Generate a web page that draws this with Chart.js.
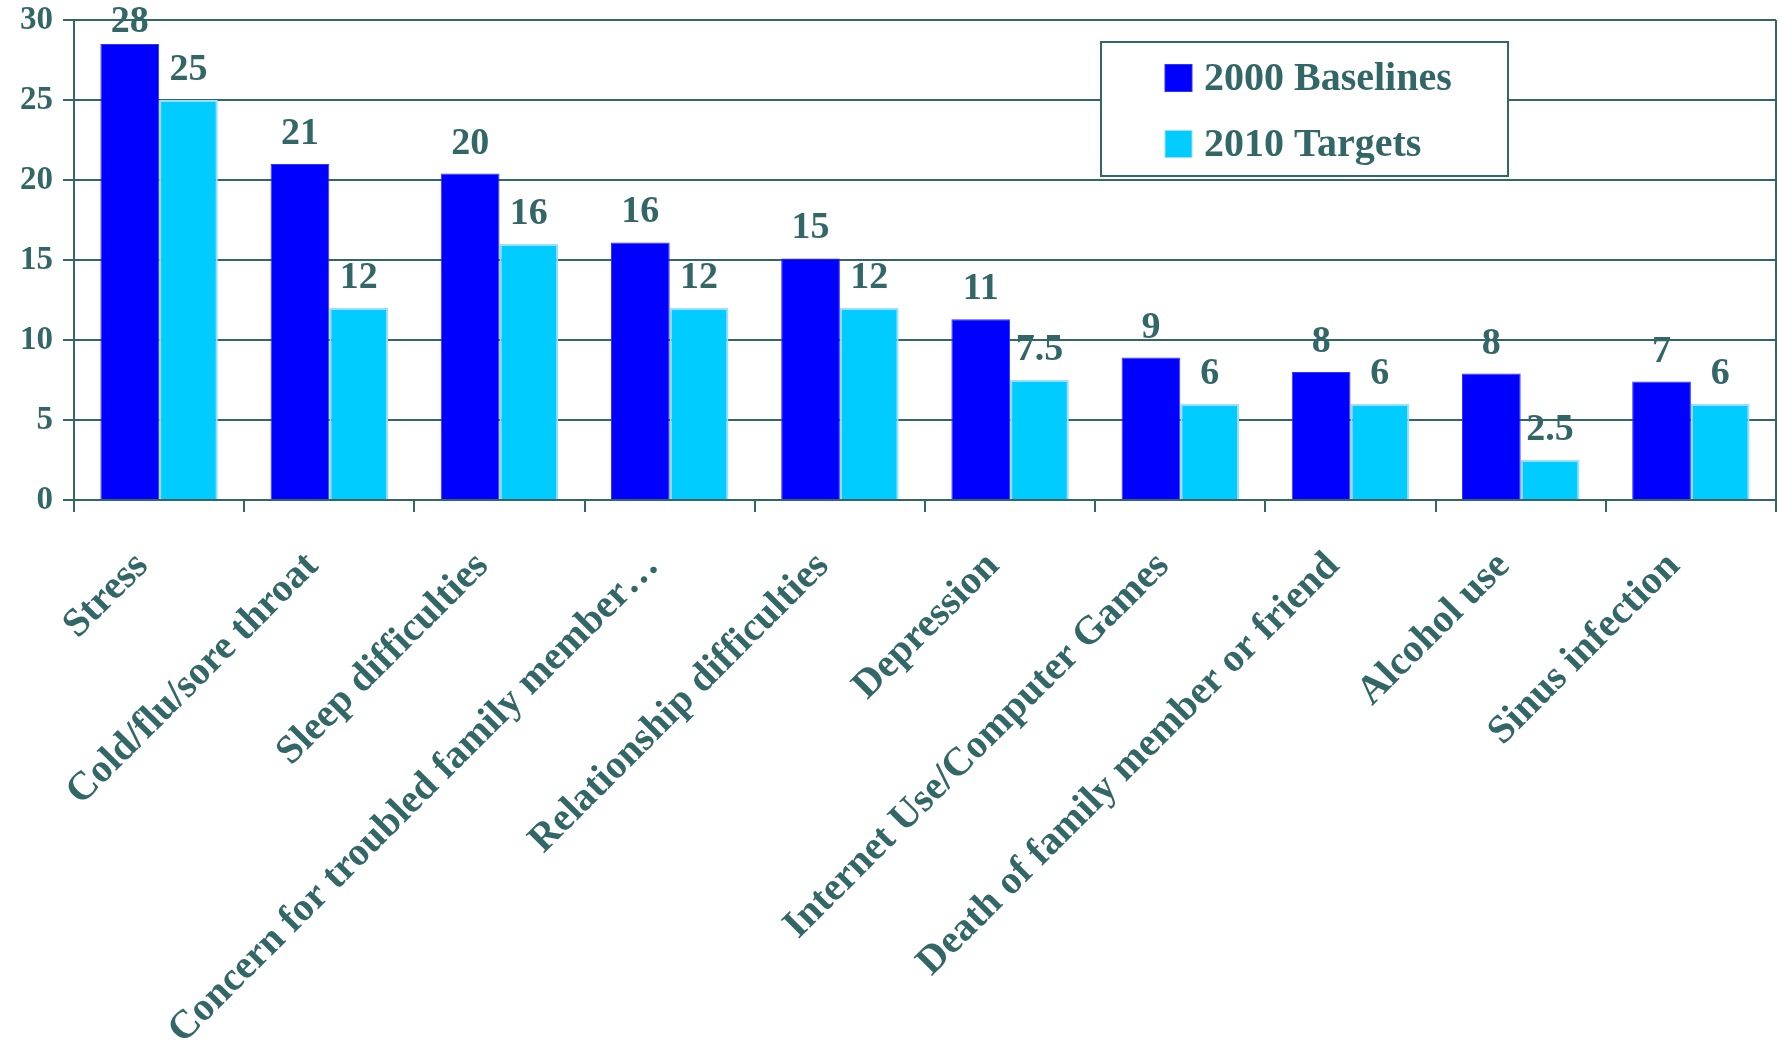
<!DOCTYPE html>
<html>
<head>
<meta charset="utf-8">
<title>2000 Baselines vs 2010 Targets</title>
<script src="https://cdn.jsdelivr.net/npm/chart.js@4.4.1/dist/chart.umd.min.js"></script>
<style>
  html, body { margin: 0; padding: 0; background: #fff; }
  #wrap { width: 1778px; height: 1044px; position: relative; }
</style>
</head>
<body>
<div id="wrap"><canvas id="chart"></canvas></div>
<script>
const categories = [
    'Stress',
    'Cold/flu/sore throat',
    'Sleep difficulties',
    'Concern for troubled family member\u2026',
    'Relationship difficulties',
    'Depression',
    'Internet Use/Computer Games',
    'Death of family member or friend',
    'Alcohol use',
    'Sinus infection',
];
const baselineValues = [28.5, 21, 20.4, 16.1, 15.1, 11.3, 8.9, 8, 7.9, 7.4];
const targetValues = [25, 12, 16, 12, 12, 7.5, 6, 6, 2.5, 6];
const baselineLabels = ['28', '21', '20', '16', '15', '11', '9', '8', '8', '7'];
const targetLabels = ['25', '12', '16', '12', '12', '7.5', '6', '6', '2.5', '6'];
const seriesNames = ['2000 Baselines', '2010 Targets'];

const TEAL = '#336666';
const SERIF = "'Liberation Serif', 'Times New Roman', serif";

// numbers above each bar
const valueLabels = {
    id: 'valueLabels',
    afterDatasetsDraw(chart, args, opts) {
        const ctx = chart.ctx;
        ctx.save();
        ctx.font = opts.font;
        ctx.fillStyle = opts.color;
        ctx.textAlign = 'center';
        ctx.textBaseline = 'alphabetic';
        chart.data.datasets.forEach((ds, i) => {
            chart.getDatasetMeta(i).data.forEach((bar, j) => {
                const y = Math.max(bar.y - opts.gap, chart.chartArea.top + opts.minTop);
                ctx.fillText(ds.valueLabels[j], bar.x, y);
            });
        });
        ctx.restore();
    }
};

// right edge of the plot frame
const frame = {
    id: 'frame',
    beforeDatasetsDraw(chart, args, opts) {
        const { ctx, chartArea } = chart;
        ctx.save();
        ctx.strokeStyle = opts.color;
        ctx.lineWidth = opts.width;
        ctx.beginPath();
        ctx.moveTo(chartArea.right, chartArea.top);
        ctx.lineTo(chartArea.right, chartArea.bottom);
        ctx.stroke();
        ctx.restore();
    }
};

// boxed legend sitting inside the plot
const boxLegend = {
    id: 'boxLegend',
    afterDraw(chart, args, opts) {
        const ctx = chart.ctx;
        ctx.save();
        ctx.fillStyle = '#fff';
        ctx.fillRect(opts.left, opts.top, opts.width, opts.height);
        ctx.strokeStyle = opts.color;
        ctx.lineWidth = 2;
        ctx.strokeRect(opts.left, opts.top, opts.width, opts.height);
        ctx.font = opts.font;
        ctx.textBaseline = 'middle';
        ctx.textAlign = 'left';
        chart.data.datasets.forEach((ds, i) => {
            const cy = opts.top + opts.firstRow + i * opts.rowGap;
            const s = opts.marker;
            ctx.fillStyle = ds.backgroundColor;
            ctx.fillRect(opts.left + opts.markerX, cy - s / 2, s, s);
            ctx.strokeStyle = ds.borderColor;
            ctx.lineWidth = 1;
            ctx.strokeRect(opts.left + opts.markerX, cy - s / 2, s, s);
            ctx.fillStyle = opts.color;
            ctx.fillText(ds.label, opts.left + opts.textX, cy + 2);
        });
        ctx.restore();
    }
};

const ctx = document.getElementById('chart').getContext('2d');
new Chart(ctx, {
    type: 'bar',
    data: {
        labels: categories,
        datasets: [
            {
                label: seriesNames[0],
                data: baselineValues,
                valueLabels: baselineLabels,
                backgroundColor: '#0000FF',
                borderColor: '#3333FF',
                borderWidth: 1,
            },
            {
                label: seriesNames[1],
                data: targetValues,
                valueLabels: targetLabels,
                backgroundColor: '#00CCFF',
                borderColor: '#99DDFF',
                borderWidth: 2,
            },
        ],
    },
    options: {
        responsive: true,
        maintainAspectRatio: false,
        animation: false,
        layout: { padding: { top: 20, right: 2, left: 0, bottom: 0 } },
        datasets: {
            bar: { categoryPercentage: 0.69, barPercentage: 1.0 }
        },
        plugins: {
            legend: { display: false },
            tooltip: { enabled: false },
            valueLabels: { font: `bold 38px ${SERIF}`, color: TEAL, gap: 20, minTop: 12 },
            frame: { color: TEAL, width: 2 },
            boxLegend: {
                left: 1101, top: 42, width: 407, height: 134,
                firstRow: 36, rowGap: 66, marker: 27, markerX: 64, textX: 103,
                font: `bold 40px ${SERIF}`, color: TEAL,
            },
        },
        scales: {
            x: {
                grid: {
                    offset: true,
                    drawOnChartArea: false,
                    color: TEAL,
                    lineWidth: 2,
                    tickLength: 12,
                },
                border: { display: true, color: TEAL, width: 2 },
                ticks: {
                    autoSkip: false,
                    minRotation: 45,
                    maxRotation: 45,
                    padding: 31,
                    labelOffset: -17,
                    color: TEAL,
                    font: { family: SERIF, size: 40, weight: 'bold' },
                },
                afterFit(scale) { scale.height = 544; },
            },
            y: {
                min: 0,
                max: 30,
                ticks: {
                    stepSize: 5,
                    padding: 10,
                    color: TEAL,
                    font: { family: SERIF, size: 33, weight: 'bold', lineHeight: 0.5 },
                },
                grid: { color: TEAL, lineWidth: 2, tickLength: 11 },
                border: { display: true, color: TEAL, width: 2 },
                afterFit(scale) { scale.width = 74; },
            },
        },
    },
    plugins: [valueLabels, frame, boxLegend],
});
</script>
</body>
</html>
